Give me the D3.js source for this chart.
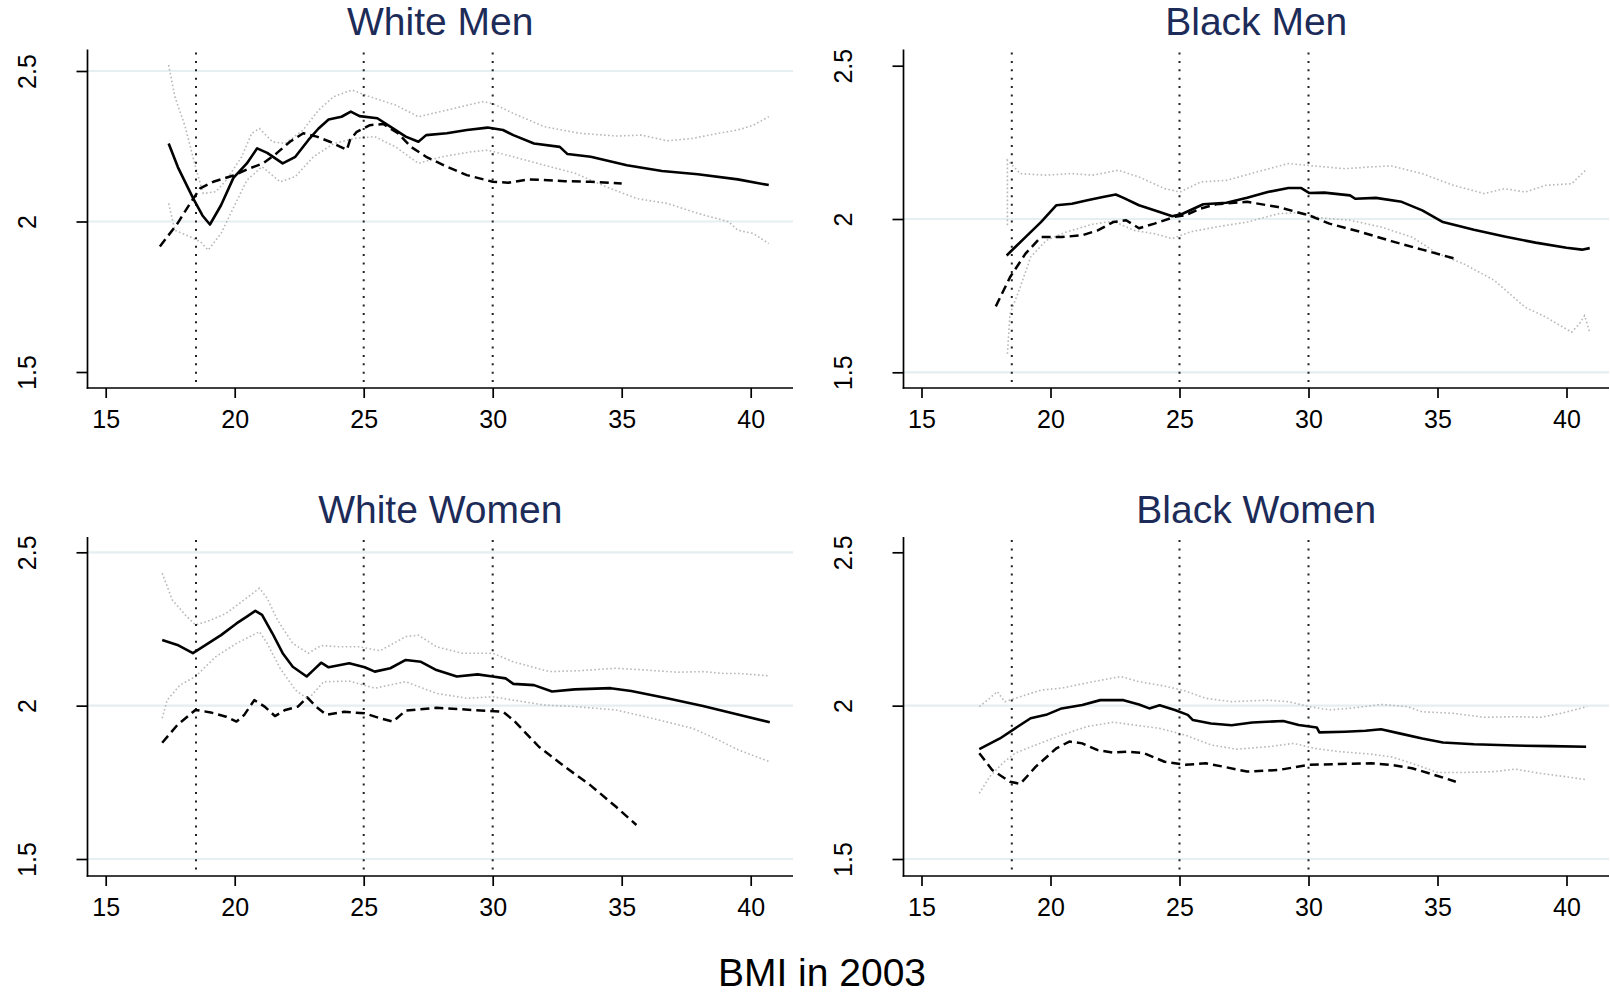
<!DOCTYPE html>
<html><head><meta charset="utf-8">
<script src="https://cdn.jsdelivr.net/npm/d3@7"></script>
<style>
html,body{margin:0;padding:0;background:#fff;}
svg{display:block;}
text{font-family:"Liberation Sans", Arial, Helvetica, sans-serif;}
</style></head><body>
<svg id="chart" width="1610" height="993"></svg>
<script>
// ---------------- data ----------------
const xTicks = [15, 20, 25, 30, 35, 40];
const yTicks = [1.5, 2, 2.5];
const yTickLabels = ["1.5", "2", "2.5"];
const refLines = [18.5, 25, 30];
const panelTitles = ["White Men", "Black Men", "White Women", "Black Women"];
const xTitle = "BMI in 2003";

// White Men
const wmSolid = [[17.44,2.259],[17.8,2.18],[18.4,2.075],[18.75,2.02],[19.04,1.99],[19.47,2.054],[19.95,2.145],[20.47,2.193],[20.87,2.243],[21.26,2.228],[21.86,2.193],[22.35,2.215],[22.85,2.27],[23.25,2.309],[23.64,2.339],[24.14,2.348],[24.5,2.365],[24.84,2.35],[25.53,2.343],[26.03,2.315],[26.63,2.282],[27.12,2.265],[27.42,2.287],[28.22,2.293],[29.0,2.304],[29.8,2.312],[30.4,2.304],[30.8,2.287],[31.6,2.259],[32.6,2.248],[32.9,2.224],[33.8,2.215],[35.2,2.187],[36.56,2.168],[37.95,2.157],[39.5,2.14],[40.7,2.121]];
const wmDashed = [[17.1,1.917],[17.78,1.993],[18.27,2.06],[18.66,2.11],[19.17,2.132],[19.95,2.153],[20.59,2.177],[21.1,2.193],[21.63,2.227],[22.14,2.265],[22.66,2.293],[23.18,2.282],[23.69,2.265],[24.08,2.249],[24.35,2.238],[24.47,2.271],[24.73,2.298],[25.24,2.32],[25.76,2.324],[26.33,2.293],[26.83,2.248],[27.42,2.215],[28.22,2.182],[29.0,2.154],[30.0,2.132],[30.6,2.129],[31.4,2.14],[32.8,2.134],[33.8,2.132],[35.0,2.126]];
const wmHi = [[17.44,2.52],[17.68,2.415],[18.08,2.315],[18.48,2.182],[18.78,2.093],[19.27,2.099],[19.67,2.137],[20.27,2.215],[20.66,2.293],[20.96,2.309],[21.46,2.265],[21.96,2.259],[22.65,2.304],[23.25,2.37],[23.84,2.415],[24.54,2.437],[25.23,2.415],[26.23,2.387],[27.12,2.348],[28.22,2.37],[29.6,2.398],[30.0,2.392],[30.8,2.359],[32.0,2.315],[33.38,2.293],[34.8,2.284],[35.77,2.287],[36.76,2.268],[37.75,2.276],[38.75,2.293],[39.5,2.304],[40.1,2.32],[40.7,2.348]];
const wmLo = [[17.44,2.06],[17.68,1.971],[18.28,1.949],[18.68,1.932],[18.97,1.905],[19.47,1.96],[19.97,2.049],[20.47,2.137],[21.06,2.182],[21.76,2.132],[22.35,2.149],[23.05,2.215],[23.84,2.259],[24.64,2.276],[25.43,2.282],[26.23,2.248],[27.12,2.193],[28.02,2.215],[29.2,2.232],[29.8,2.237],[30.8,2.215],[32.0,2.187],[33.2,2.16],[34.4,2.115],[35.6,2.076],[36.76,2.06],[37.95,2.027],[39.15,1.999],[39.5,1.971],[40.1,1.96],[40.7,1.927]];

// Black Men
const bmSolid = [[18.3,1.881],[19.03,1.941],[19.63,1.99],[20.23,2.045],[20.83,2.05],[21.43,2.061],[22.03,2.072],[22.53,2.08],[22.83,2.069],[23.43,2.045],[24.23,2.023],[24.72,2.009],[25.12,2.017],[25.92,2.048],[26.82,2.053],[27.62,2.069],[28.42,2.088],[29.22,2.101],[29.72,2.101],[30.02,2.085],[30.61,2.086],[31.61,2.077],[31.81,2.066],[32.61,2.069],[33.61,2.056],[34.41,2.028],[35.21,1.99],[36.41,1.965],[37.6,1.943],[38.8,1.923],[40.0,1.906],[40.6,1.9],[40.9,1.905]];
const bmDashed = [[17.88,1.715],[18.43,1.81],[19.03,1.887],[19.63,1.941],[20.43,1.941],[21.23,1.947],[21.83,1.963],[22.43,1.99],[22.93,1.996],[23.43,1.97],[24.03,1.985],[24.82,2.007],[25.22,2.012],[25.82,2.034],[26.42,2.048],[27.62,2.056],[28.82,2.039],[30.02,2.012],[30.81,1.985],[32.01,1.958],[33.21,1.928],[34.41,1.9],[35.71,1.87]];
const bmHi = [[18.33,1.98],[18.33,2.192],[18.83,2.148],[19.83,2.143],[20.83,2.148],[21.63,2.143],[22.63,2.159],[23.43,2.137],[24.43,2.099],[25.02,2.088],[25.82,2.121],[26.82,2.126],[28.02,2.154],[29.22,2.181],[30.22,2.173],[31.41,2.164],[32.41,2.17],[33.21,2.173],[34.41,2.148],[35.61,2.11],[36.81,2.083],[37.6,2.099],[38.4,2.088],[39.2,2.11],[40.2,2.115],[40.8,2.164]];
const bmLo = [[18.33,1.56],[18.43,1.69],[18.83,1.778],[19.23,1.876],[19.83,1.93],[20.63,1.958],[21.63,1.983],[22.43,1.993],[23.23,1.963],[24.03,1.952],[24.72,1.936],[25.42,1.958],[26.42,1.974],[27.62,1.99],[28.82,2.017],[29.62,2.021],[30.42,2.004],[31.61,1.996],[32.81,1.974],[34.01,1.941],[35.01,1.887],[36.01,1.854],[37.2,1.8],[38.4,1.712],[39.2,1.68],[40.2,1.631],[40.5,1.658],[40.7,1.685],[40.9,1.631]];

// White Women
const wwSolid = [[17.19,2.214],[17.78,2.198],[18.38,2.171],[18.88,2.198],[19.47,2.23],[20.07,2.268],[20.47,2.29],[20.8,2.309],[21.06,2.296],[21.46,2.236],[21.86,2.171],[22.25,2.127],[22.79,2.095],[23.05,2.116],[23.35,2.14],[23.64,2.125],[24.44,2.138],[25.04,2.125],[25.43,2.111],[26.03,2.122],[26.63,2.149],[27.22,2.143],[27.82,2.116],[28.61,2.095],[29.41,2.102],[30.0,2.095],[30.5,2.089],[30.8,2.071],[31.6,2.067],[32.3,2.046],[33.18,2.053],[34.57,2.057],[35.37,2.048],[36.76,2.024],[38.15,1.999],[39.54,1.97],[40.74,1.946]];
const wwDashed = [[17.19,1.879],[17.78,1.937],[18.48,1.986],[19.07,1.978],[19.67,1.964],[20.07,1.948],[20.37,1.97],[20.76,2.018],[21.16,1.997],[21.56,1.966],[21.96,1.986],[22.45,1.997],[22.81,2.027],[23.15,1.997],[23.55,1.97],[24.24,1.98],[25.04,1.975],[25.63,1.959],[26.13,1.948],[26.63,1.984],[27.82,1.993],[29.21,1.986],[30.4,1.98],[30.8,1.953],[31.79,1.866],[32.79,1.801],[33.78,1.741],[34.77,1.671],[35.57,1.611]];
const wwHi = [[17.19,2.432],[17.58,2.345],[18.08,2.296],[18.48,2.263],[19.07,2.279],[19.67,2.301],[20.27,2.339],[20.96,2.383],[21.26,2.35],[21.66,2.279],[22.25,2.203],[22.85,2.171],[23.35,2.196],[24.04,2.192],[24.84,2.192],[25.63,2.179],[26.63,2.225],[27.12,2.23],[27.82,2.192],[28.81,2.171],[30.0,2.171],[30.8,2.143],[32.19,2.111],[33.38,2.114],[34.77,2.122],[35.97,2.116],[37.16,2.109],[38.15,2.111],[38.95,2.105],[39.54,2.105],[40.74,2.097]];
const wwLo = [[17.19,1.959],[17.38,2.018],[17.88,2.067],[18.48,2.095],[19.27,2.16],[20.07,2.203],[20.96,2.241],[21.26,2.203],[21.76,2.122],[22.35,2.051],[22.85,2.021],[23.45,2.078],[24.44,2.08],[25.43,2.057],[26.63,2.078],[27.82,2.04],[29.01,2.024],[30.0,2.029],[30.8,2.018],[31.99,2.002],[33.18,1.997],[34.77,1.986],[36.16,1.959],[37.75,1.926],[38.75,1.888],[39.54,1.855],[40.74,1.817]];

// Black Women
const bwSolid = [[17.24,1.858],[18.04,1.893],[18.63,1.926],[19.23,1.959],[19.83,1.97],[20.43,1.991],[21.23,2.002],[21.93,2.018],[22.83,2.018],[23.43,2.004],[23.83,1.991],[24.23,2.001],[24.82,1.986],[25.32,1.97],[25.52,1.953],[26.22,1.942],[27.02,1.936],[27.82,1.945],[29.02,1.95],[29.62,1.937],[30.32,1.929],[30.42,1.913],[31.41,1.915],[32.21,1.918],[32.81,1.923],[33.61,1.908],[34.41,1.893],[35.21,1.88],[36.41,1.874],[38.0,1.87],[39.4,1.868],[40.76,1.866]];
const bwDashed = [[17.24,1.845],[17.74,1.79],[18.43,1.752],[18.83,1.745],[19.43,1.801],[20.23,1.861],[20.73,1.883],[21.23,1.877],[21.83,1.855],[22.43,1.847],[23.03,1.85],[23.63,1.845],[24.42,1.817],[25.22,1.807],[26.02,1.812],[26.82,1.799],[27.62,1.785],[28.82,1.79],[30.02,1.807],[31.21,1.81],[32.41,1.812],[33.21,1.807],[34.01,1.796],[34.81,1.776],[35.71,1.752]];
const bwHi = [[17.24,1.997],[17.64,2.024],[17.94,2.046],[18.23,2.013],[18.83,2.029],[19.63,2.051],[20.43,2.057],[21.23,2.071],[22.03,2.084],[22.73,2.095],[23.43,2.078],[24.42,2.064],[25.22,2.048],[26.02,2.024],[27.02,2.013],[28.42,2.018],[29.22,2.013],[30.02,1.997],[30.81,1.986],[31.81,1.993],[32.81,2.004],[33.81,1.997],[34.41,1.98],[35.61,1.975],[36.81,1.962],[38.0,1.964],[39.0,1.962],[39.8,1.975],[40.8,1.997]];
const bwLo = [[17.24,1.714],[17.64,1.768],[18.14,1.812],[18.63,1.845],[19.43,1.872],[20.43,1.904],[21.43,1.932],[22.43,1.946],[23.23,1.937],[24.23,1.926],[25.22,1.904],[26.22,1.872],[27.22,1.858],[28.42,1.866],[29.42,1.877],[30.22,1.861],[31.21,1.85],[32.41,1.842],[33.21,1.833],[34.01,1.812],[35.01,1.782],[36.01,1.782],[37.2,1.785],[38.0,1.793],[39.0,1.779],[40.0,1.768],[40.8,1.758]];

// ---------------- layout ----------------
const svg = d3.select("#chart");
const plotW = 705.5;
const panels = [
  {title: panelTitles[0], solid: wmSolid, dashed: wmDashed, hi: wmHi, lo: wmLo,
   axisX: 87.5, top: 49.5, bottom: 388, xr: [105.7, 750.7], yr: [372, 71], grid: [2, 2.5]},
  {title: panelTitles[1], solid: bmSolid, dashed: bmDashed, hi: bmHi, lo: bmLo,
   axisX: 903.5, top: 49.5, bottom: 388, xr: [921.5, 1566.5], yr: [372.3, 65.7], grid: [1.5, 2]},
  {title: panelTitles[2], solid: wwSolid, dashed: wwDashed, hi: wwHi, lo: wwLo,
   axisX: 87.5, top: 537, bottom: 876, xr: [105.7, 750.7], yr: [859, 552.3], grid: [1.5, 2, 2.5]},
  {title: panelTitles[3], solid: bwSolid, dashed: bwDashed, hi: bwHi, lo: bwLo,
   axisX: 903.5, top: 537, bottom: 876, xr: [921.5, 1566.5], yr: [859, 552.3], grid: [1.5, 2]}
];

panels.forEach(p => {
  const x = d3.scaleLinear().domain([15, 40]).range(p.xr);
  const y = d3.scaleLinear().domain([1.5, 2.5]).range(p.yr);
  const right = p.axisX + plotW;
  const g = svg.append("g");

  // gridlines
  g.append("g").selectAll("line").data(p.grid).join("line")
    .attr("x1", p.axisX).attr("x2", right)
    .attr("y1", d => y(d)).attr("y2", d => y(d))
    .attr("stroke", "#e5eef0").attr("stroke-width", 2.2);

  const line = d3.line().x(d => x(d[0])).y(d => y(d[1]));

  // confidence bands (gray dotted)
  [p.hi, p.lo].forEach(arr => {
    g.append("path").datum(arr).attr("d", line)
      .attr("fill", "none").attr("stroke", "#b8b8b8")
      .attr("stroke-width", 1.6).attr("stroke-dasharray", "1.6,2.4");
  });

  // reference vertical dotted lines
  g.append("g").selectAll("line").data(refLines).join("line")
    .attr("x1", d => x(d)).attr("x2", d => x(d))
    .attr("y1", p.top + 3).attr("y2", p.bottom)
    .attr("stroke", "#222").attr("stroke-width", 2)
    .attr("stroke-dasharray", "2,6.4");

  // dashed series
  g.append("path").datum(p.dashed).attr("d", line)
    .attr("fill", "none").attr("stroke", "#000")
    .attr("stroke-width", 2.5).attr("stroke-dasharray", "9,5")
    .attr("stroke-linejoin", "round");

  // solid series
  g.append("path").datum(p.solid).attr("d", line)
    .attr("fill", "none").attr("stroke", "#000")
    .attr("stroke-width", 2.6).attr("stroke-linejoin", "round");

  // x axis
  const xa = g.append("g").attr("transform", `translate(0,${p.bottom})`)
    .call(d3.axisBottom(x).tickValues(xTicks).tickSize(10).tickPadding(12.3).tickFormat(d3.format("d")));
  xa.select(".domain").remove();
  xa.selectAll(".tick line").attr("stroke", "#000").attr("stroke-width", 1.7);
  xa.selectAll(".tick text").attr("font-size", 25).attr("fill", "#000")
    .attr("font-family", '"Liberation Sans", Arial, sans-serif');
  g.append("line").attr("x1", p.axisX - 0.85).attr("x2", right)
    .attr("y1", p.bottom).attr("y2", p.bottom)
    .attr("stroke", "#000").attr("stroke-width", 1.7);

  // y axis
  const ya = g.append("g").attr("transform", `translate(${p.axisX},0)`)
    .call(d3.axisLeft(y).tickValues(yTicks).tickSize(11)
      .tickFormat((d, i) => yTickLabels[i]));
  ya.select(".domain").remove();
  ya.selectAll(".tick line").attr("stroke", "#000").attr("stroke-width", 1.7);
  ya.selectAll(".tick text")
    .attr("x", null).attr("dy", null)
    .attr("text-anchor", "middle")
    .attr("transform", "translate(-52,0) rotate(-90)")
    .attr("font-size", 25).attr("fill", "#000")
    .attr("font-family", '"Liberation Sans", Arial, sans-serif');
  g.append("line").attr("x1", p.axisX).attr("x2", p.axisX)
    .attr("y1", p.top).attr("y2", p.bottom + 0.85)
    .attr("stroke", "#000").attr("stroke-width", 1.7);

  // title
  g.append("text").attr("x", (p.axisX + right) / 2).attr("y", p.top - 14.5)
    .attr("text-anchor", "middle").attr("font-size", 39)
    .attr("fill", "#1c2b58").text(p.title);
});

svg.append("text").attr("x", 822).attr("y", 985.5)
  .attr("text-anchor", "middle").attr("font-size", 39)
  .attr("fill", "#000").text(xTitle);
</script></body></html>
